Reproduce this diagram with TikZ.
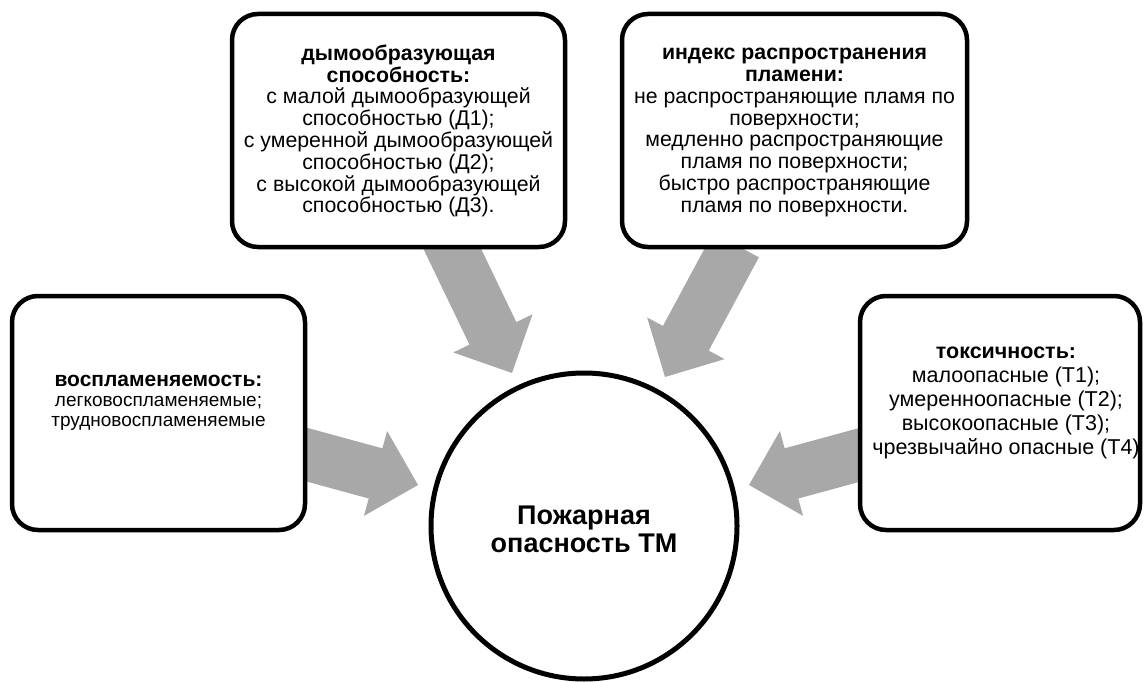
\documentclass[tikz,border=0pt]{standalone}
\usepackage{fontspec}
\setmainfont{Liberation Sans}
\usetikzlibrary{calc,backgrounds}
\definecolor{arrowgray}{RGB}{168,168,168}
\newcommand\blockarrow[2]{%
  \path ($(#2)!44pt!(#1)$) coordinate (hb);
  \fill[arrowgray] ($(#1)!26pt!90:(#2)$) -- ($(hb)!26pt!90:(#2)$) -- ($(hb)!44pt!90:(#2)$) -- (#2)
    -- ($(hb)!44pt!-90:(#2)$) -- ($(hb)!26pt!-90:(#2)$) -- ($(#1)!26pt!-90:(#2)$) -- cycle;
}
\tikzset{
  box/.style={draw, fill=white, rounded corners=26pt, line width=4.5pt, inner sep=0pt, outer sep=0pt},
  txt/.style={align=center, inner sep=0pt, font=\fontsize{21.3}{21.8}\selectfont},
  hub/.style={draw, fill=white, circle, line width=5pt, inner sep=0pt, minimum size=306pt}
}
\begin{document}
\begin{tikzpicture}[x=1pt,y=-1pt]
\useasboundingbox (0,0) rectangle (1145,682);
% boxes
\node[box, minimum width=333pt, minimum height=233pt] (smoke) at (398.5,130.5) {};
\node[box, minimum width=345pt, minimum height=233pt] (flame) at (794.5,130.5) {};
\node[box, minimum width=293pt, minimum height=234pt] (ign) at (158.5,413) {};
\node[box, minimum width=280pt, minimum height=234pt] (tox) at (1000,413) {};
\node[hub] (hub) at (584,526) {};
% texts
\node[txt] (smoketxt) at (398.5,131) {\textbf{дымообразующая}\\\textbf{способность:}\\с малой дымообразующей\\способностью (Д1);\\с умеренной дымообразующей\\способностью (Д2);\\с высокой дымообразующей\\способностью (Д3).};
\node[txt] (flametxt) at (794.5,132.5) {\textbf{индекс распространения}\\\textbf{пламени:}\\не распространяющие пламя по\\поверхности;\\медленно распространяющие\\пламя по поверхности;\\быстро распространяющие\\пламя по поверхности.};
\node[txt, font=\fontsize{21}{20}\selectfont] (igntxt) at (158.5,403) {\textbf{воспламеняемость:}\\{\fontsize{19}{20}\selectfont легковоспламеняемые;}\\{\fontsize{19}{20}\selectfont трудновоспламеняемые}};
\node[txt, font=\fontsize{21.5}{24}\selectfont] (toxtxt) at (1006,403) {\textbf{токсичность:}\\малоопасные (Т1);\\умеренноопасные (Т2);\\высокоопасные (Т3);\\чрезвычайно опасные (Т4)};
\node[align=center, inner sep=0pt, font=\fontsize{27}{28}\selectfont\bfseries] (hubtxt) at (584,529) {Пожарная\\опасность ТМ};
% arrows
\coordinate (a1s) at (447,238);  \coordinate (a1t) at (512,373);
\coordinate (a2s) at (736,245);  \coordinate (a2t) at (665,377);
\coordinate (a3s) at (297,452);  \coordinate (a3t) at (418,485);
\coordinate (a4s) at (870,452);  \coordinate (a4t) at (749,485);
\begin{scope}[on background layer]
\blockarrow{a1s}{a1t}
\blockarrow{a2s}{a2t}
\blockarrow{a3s}{a3t}
\blockarrow{a4s}{a4t}
\end{scope}
\end{tikzpicture}
\end{document}
